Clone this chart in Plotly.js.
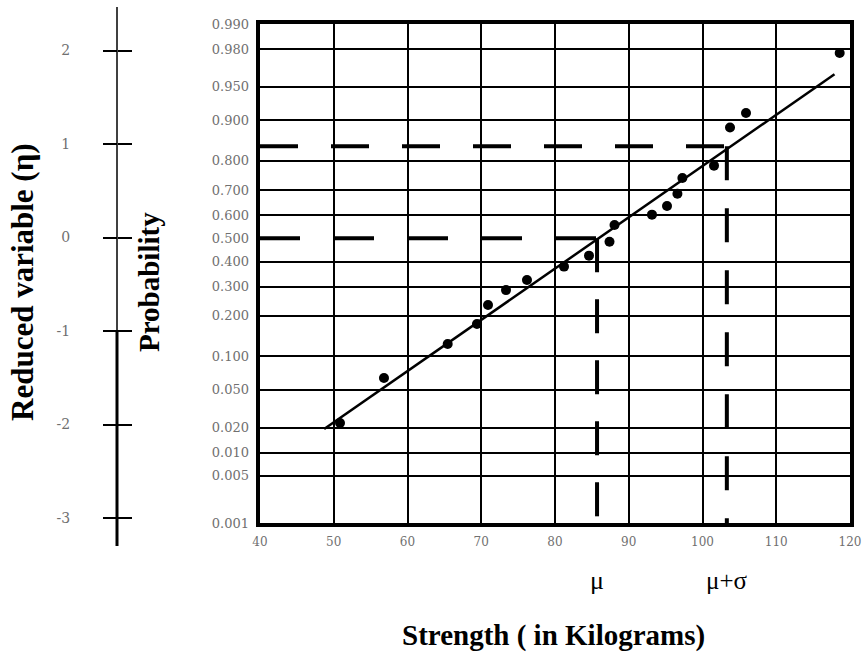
<!DOCTYPE html>
<html>
<head>
<meta charset="utf-8">
<script src="https://cdn.plot.ly/plotly-3.0.1.min.js"></script>
<style>html,body{margin:0;padding:0;background:#fff;}#chart{width:868px;height:653px;}</style>
</head>
<body>
<div id="chart"></div>
<script>
// ---- data ----
const strength = [50.85, 56.81, 65.45, 69.42, 70.92, 73.36, 76.20, 81.22, 84.61, 87.39, 88.07, 93.15, 95.19, 96.60, 97.27, 101.56, 103.73, 105.90, 118.60];
const reducedVar = [-2.005, -1.516, -1.148, -0.931, -0.724, -0.562, -0.453, -0.307, -0.188, -0.037, 0.144, 0.257, 0.351, 0.484, 0.655, 0.789, 1.203, 1.360, 2.012];
const fitStrength = [48.7, 117.9];
const fitReduced = [-2.07, 1.78];
const mu = 85.7;
const muPlusSigma = 103.3;
const probTicks = [0.99, 0.98, 0.95, 0.9, 0.8, 0.7, 0.6, 0.5, 0.4, 0.3, 0.2, 0.1, 0.05, 0.02, 0.01, 0.005, 0.001];
const probLabels = ["0.990","0.980","0.950","0.900","0.800","0.700","0.600","0.500","0.400","0.300","0.200","0.100","0.050","0.020","0.010","0.005","0.001"];
const etaTicks = [2, 1, 0, -1, -2, -3];
const etaLabels = ["2", "1", "0", "-1", "-2", "-3"];
const strengthTicks = [40, 50, 60, 70, 80, 90, 100, 110, 120];
const strengthLabels = ["40", "50", "60", "70", "80", "90", "100", "110", "120"];

// inverse standard normal CDF (Acklam) for the probability scale
function probit(p) {
  const a = [-3.969683028665376e+01, 2.209460984245205e+02, -2.759285104469687e+02, 1.383577518672690e+02, -3.066479806614716e+01, 2.506628277459239e+00];
  const b = [-5.447609879822406e+01, 1.615858368580409e+02, -1.556989798598866e+02, 6.680131188771972e+01, -1.328068155288572e+01];
  const c = [-7.784894002430293e-03, -3.223964580411365e-01, -2.400758277161838e+00, -2.549732539343734e+00, 4.374664141464968e+00, 2.938163982698783e+00];
  const d = [7.784695709041462e-03, 3.224671290700398e-01, 2.445134137142996e+00, 3.754408661907416e+00];
  const pl = 0.02425;
  let q, r;
  if (p < pl) { q = Math.sqrt(-2 * Math.log(p));
    return (((((c[0]*q+c[1])*q+c[2])*q+c[3])*q+c[4])*q+c[5]) / ((((d[0]*q+d[1])*q+d[2])*q+d[3])*q+1); }
  if (p > 1 - pl) { q = Math.sqrt(-2 * Math.log(1 - p));
    return -(((((c[0]*q+c[1])*q+c[2])*q+c[3])*q+c[4])*q+c[5]) / ((((d[0]*q+d[1])*q+d[2])*q+d[3])*q+1); }
  q = p - 0.5; r = q * q;
  return (((((a[0]*r+a[1])*r+a[2])*r+a[3])*r+a[4])*r+a[5])*q / (((((b[0]*r+b[1])*r+b[2])*r+b[3])*r+b[4])*r+1);
}

const probEta = probTicks.map(probit);
const gridEta = probEta.filter((v, i) => probTicks[i] !== 0.5);
const yMin = probit(0.001), yMax = probit(0.99);

const serif = "Liberation Serif, Times New Roman, serif";
const tickSerif = "DejaVu Serif, serif";
const gray = "#707070";

const L = 20, R = 18, T = 8, B = 108;
const W = 868 - L - R, H = 653 - T - B;
const px2x = p => (p - L) / W;
const px2y = p => (653 - B - p) / H;

const plotTopPx = 24, plotBotPx = 523;
// left reduced-variable scale as drawn in the reference
const etaPerPxLeft = 93.5, eta0PxLeft = 237.5;
const leftTop = (eta0PxLeft - plotTopPx) / etaPerPxLeft;
const leftBot = -(plotBotPx - eta0PxLeft) / etaPerPxLeft;

const dashLine = (xs, ys, dash) => ({x: xs, y: ys, mode: "lines", line: {color: "#000", width: 4, dash: dash}, hoverinfo: "skip", showlegend: false});

const traces = [
  dashLine([40, mu], [0, 0], "40px,34px"),
  dashLine([mu, mu], [0, yMin], "34px,27px"),
  dashLine([40, muPlusSigma], [1, 1], "38px,33px"),
  dashLine([muPlusSigma, muPlusSigma], [1, yMin], "34px,28px"),
  {x: fitStrength, y: fitReduced, mode: "lines", line: {color: "#000", width: 2.5}, hoverinfo: "skip", showlegend: false},
  {x: strength, y: reducedVar, mode: "markers", marker: {color: "#000", size: 10}, showlegend: false},
  {x: [60], y: [0], yaxis: "y2", mode: "markers", marker: {opacity: 0}, hoverinfo: "skip", showlegend: false},
  {x: [60], y: [0], yaxis: "y3", mode: "markers", marker: {opacity: 0}, hoverinfo: "skip", showlegend: false},
  {x: [60], y: [0], yaxis: "y4", mode: "markers", marker: {opacity: 0}, hoverinfo: "skip", showlegend: false}
];

const yDomain = [px2y(plotBotPx), px2y(plotTopPx)];
const axisX = px2x(117);

const layout = {
  width: 868, height: 653,
  margin: {l: L, r: R, t: T, b: B},
  paper_bgcolor: "#fff", plot_bgcolor: "#fff",
  xaxis: {
    domain: [px2x(260), px2x(850)], range: [40, 120],
    tickvals: strengthTicks, ticktext: strengthLabels,
    showgrid: true, gridcolor: "#000", gridwidth: 2, zeroline: false,
    showline: true, linecolor: "#000", linewidth: 4, mirror: true,
    ticks: "", tickfont: {family: tickSerif, size: 12, color: gray}, ticklabelstandoff: 5
  },
  yaxis: {
    domain: yDomain, range: [yMin, yMax],
    tickvals: gridEta, showticklabels: false,
    showgrid: true, gridcolor: "#000", gridwidth: 2, zeroline: false,
    showline: true, linecolor: "#000", linewidth: 4, mirror: true, ticks: ""
  },
  yaxis4: {
    overlaying: "y", anchor: "x", side: "left",
    range: [yMin, yMax],
    tickvals: probEta, ticktext: probLabels, showgrid: false, zeroline: false,
    ticks: "", tickfont: {family: tickSerif, size: 13, color: gray}, ticklabelstandoff: 10
  },
  yaxis2: {
    overlaying: "y", anchor: "free", position: axisX, side: "left",
    range: [leftBot, leftTop],
    tickvals: etaTicks, ticktext: etaLabels, showgrid: false, zeroline: false,
    showline: false,
    ticks: "outside", ticklen: 14, tickwidth: 2, tickcolor: "#000",
    tickfont: {family: tickSerif, size: 14, color: gray}, ticklabelstandoff: 30
  },
  yaxis3: {
    overlaying: "y", anchor: "free", position: axisX, side: "right",
    range: [leftBot, leftTop],
    tickvals: etaTicks, showticklabels: false, showgrid: false, zeroline: false,
    showline: false, ticks: "outside", ticklen: 14, tickwidth: 2, tickcolor: "#000"
  },
  shapes: [
    {type: "line", xref: "paper", yref: "paper", x0: axisX, x1: axisX, y0: px2y(330), y1: px2y(7), line: {color: "#000", width: 1.5}},
    {type: "line", xref: "paper", yref: "paper", x0: axisX, x1: axisX, y0: px2y(546), y1: px2y(330), line: {color: "#000", width: 3}}
  ],
  annotations: [
    {text: "μ", x: mu, xref: "x", y: px2y(580), yref: "paper", xanchor: "center", yanchor: "middle", showarrow: false, font: {family: serif, size: 26, color: "#000"}},
    {text: "μ+σ", x: muPlusSigma, xref: "x", y: px2y(580), yref: "paper", xanchor: "center", yanchor: "middle", showarrow: false, font: {family: serif, size: 25, color: "#000"}},
    {text: "<b>Strength ( in Kilograms)</b>", x: px2x(553), xref: "paper", y: px2y(635), yref: "paper", xanchor: "center", yanchor: "middle", showarrow: false, font: {family: serif, size: 29, color: "#000"}},
    {text: "<b>Reduced variable (η)</b>", x: px2x(22), xref: "paper", y: px2y(282), yref: "paper", xanchor: "center", yanchor: "middle", showarrow: false, textangle: -90, font: {family: serif, size: 31, color: "#000"}},
    {text: "<b>Probability</b>", x: px2x(149), xref: "paper", y: px2y(282), yref: "paper", xanchor: "center", yanchor: "middle", showarrow: false, textangle: -90, font: {family: serif, size: 29, color: "#000"}}
  ],
  showlegend: false
};

Plotly.newPlot("chart", traces, layout, {staticPlot: true, displayModeBar: false});
</script>
</body>
</html>
